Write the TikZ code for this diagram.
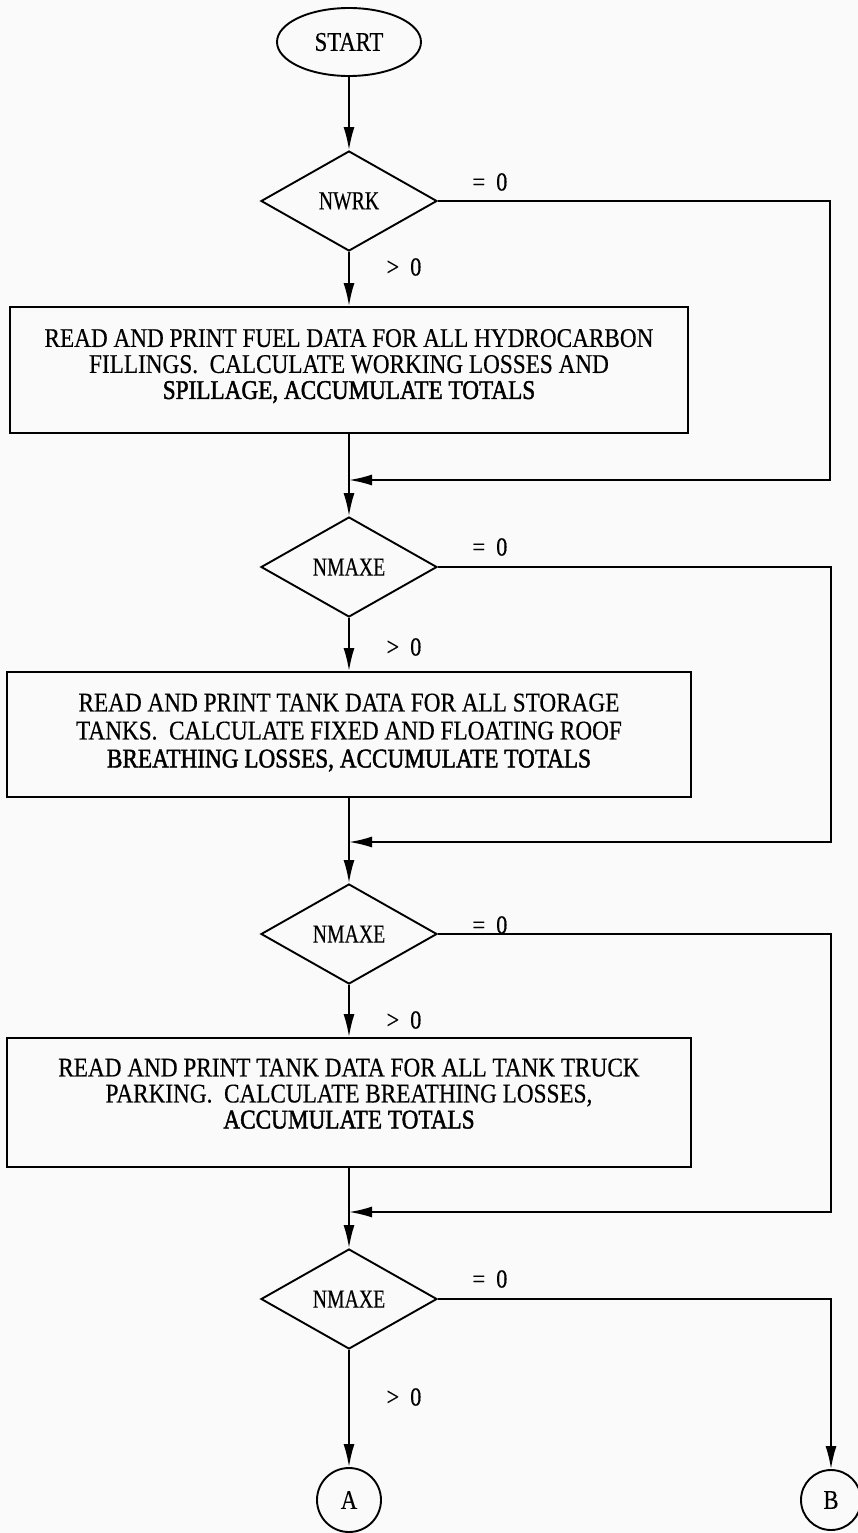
\documentclass[tikz,border=0pt]{standalone}
\usepackage{fontspec}
\setmainfont{Liberation Serif}[FakeStretch=0.86,FakeBold=0.4]
\newfontfamily\labelfont{Liberation Serif}[FakeStretch=0.76,FakeBold=0.3]
\newfontfamily\startfont{Liberation Serif}[FakeStretch=0.84,FakeBold=0.3]
\newfontfamily\heavyfont{Liberation Serif}[FakeStretch=0.86,FakeBold=1.6]
\usetikzlibrary{shapes.geometric,arrows.meta}

% extra depth below the last line lifts a block of text inside its box
\newcommand{\lift}[1]{\rule[-#1]{0pt}{0pt}}

\tikzset{
  flow/.style={line width=1.9pt, draw=black},
  arr/.style={flow, -{Latex[length=23pt,width=11pt]}},
  terminal/.style={ellipse, draw, line width=1.9pt, minimum width=144pt, minimum height=68pt,
    inner sep=0pt, font=\startfont\fontsize{27}{27}\selectfont},
  decision/.style={diamond, draw, line width=1.9pt, minimum width=176pt, minimum height=100pt,
    inner sep=0pt, font=\labelfont\fontsize{26}{26}\selectfont},
  process/.style={rectangle, draw, line width=1.9pt, align=center, inner sep=0pt,
    font=\fontsize{27}{26}\selectfont},
  connector/.style={circle, draw, line width=1.9pt, inner sep=0pt,
    font=\startfont\fontsize{27}{27}\selectfont},
  cond/.style={inner sep=0pt, font=\fontsize{26}{26}\selectfont}
}

\begin{document}
\begin{tikzpicture}[x=1pt, y=-1pt]
  % page area
  \fill[black!2] (0,0) rectangle (858,1533);
  \useasboundingbox (0,0) rectangle (858,1533);

  % main column
  \node[terminal] (start) at (349,42) {START};
  \node[decision] (d1) at (349,201) {NWRK};
  \node[process, minimum width=678pt, minimum height=126pt] (p1) at (349,370)
    {READ AND PRINT FUEL DATA FOR ALL HYDROCARBON\\
     FILLINGS.\ \ CALCULATE WORKING LOSSES AND\\
     {\heavyfont SPILLAGE, ACCUMULATE TOTALS}\lift{12pt}};
  \node[decision] (d2) at (349,567) {NMAXE};
  \node[process, minimum width=684pt, minimum height=125pt] (p2) at (349,734.5)
    {READ AND PRINT TANK DATA FOR ALL STORAGE\\[2pt]
     TANKS.\ \ CALCULATE FIXED AND FLOATING ROOF\\[2pt]
     {\heavyfont BREATHING LOSSES, ACCUMULATE TOTALS}\lift{8pt}};
  \node[decision] (d3) at (349,934) {NMAXE};
  \node[process, minimum width=684pt, minimum height=129pt] (p3) at (349,1102.5)
    {READ AND PRINT TANK DATA FOR ALL TANK TRUCK\\
     PARKING.\ \ CALCULATE BREATHING LOSSES,\\
     {\heavyfont ACCUMULATE TOTALS}\lift{18pt}};
  \node[decision] (d4) at (349,1299) {NMAXE};
  \node[connector, minimum size=64pt] (ca) at (349,1500) {A};
  \node[connector, minimum size=60pt] (cb) at (831,1500) {B};

  % junctions where the bypass lines rejoin
  \coordinate (m1) at (349,480);
  \coordinate (m2) at (349,842);
  \coordinate (m3) at (349,1212);
  % corners of the bypass lines
  \coordinate (r1) at (830,480);
  \coordinate (r2) at (831,842);
  \coordinate (r3) at (831,1212);

  % branch labels
  \node[cond] (e1) at (490,182) {=\hspace{11pt}0};
  \node[cond] (g1) at (404,267) {>\hspace{11pt}0};
  \node[cond] (e2) at (490,547) {=\hspace{11pt}0};
  \node[cond] (g2) at (404,647) {>\hspace{11pt}0};
  \node[cond] (e3) at (490,925) {=\hspace{11pt}0};
  \node[cond] (g3) at (404,1020) {>\hspace{11pt}0};
  \node[cond] (e4) at (490,1279) {=\hspace{11pt}0};
  \node[cond] (g4) at (404,1397) {>\hspace{11pt}0};

  % vertical flow
  \draw[arr] (start) -- (d1);
  \draw[arr] (d1) -- (p1);
  \draw[arr] (p1) -- (d2);
  \draw[arr] (d2) -- (p2);
  \draw[arr] (p2) -- (d3);
  \draw[arr] (d3) -- (p3);
  \draw[arr] (p3) -- (d4);
  \draw[arr] (d4) -- (ca);

  % bypass lines for the "= 0" branches
  \draw[arr] (d1.east) -- (d1.east -| r1) -- (r1) -- (m1);
  \draw[arr] (d2.east) -- (d2.east -| r2) -- (r2) -- (m2);
  \draw[arr] (d3.east) -- (d3.east -| r3) -- (r3) -- (m3);
  \draw[arr] (d4.east) -| (cb.north);
\end{tikzpicture}
\end{document}
